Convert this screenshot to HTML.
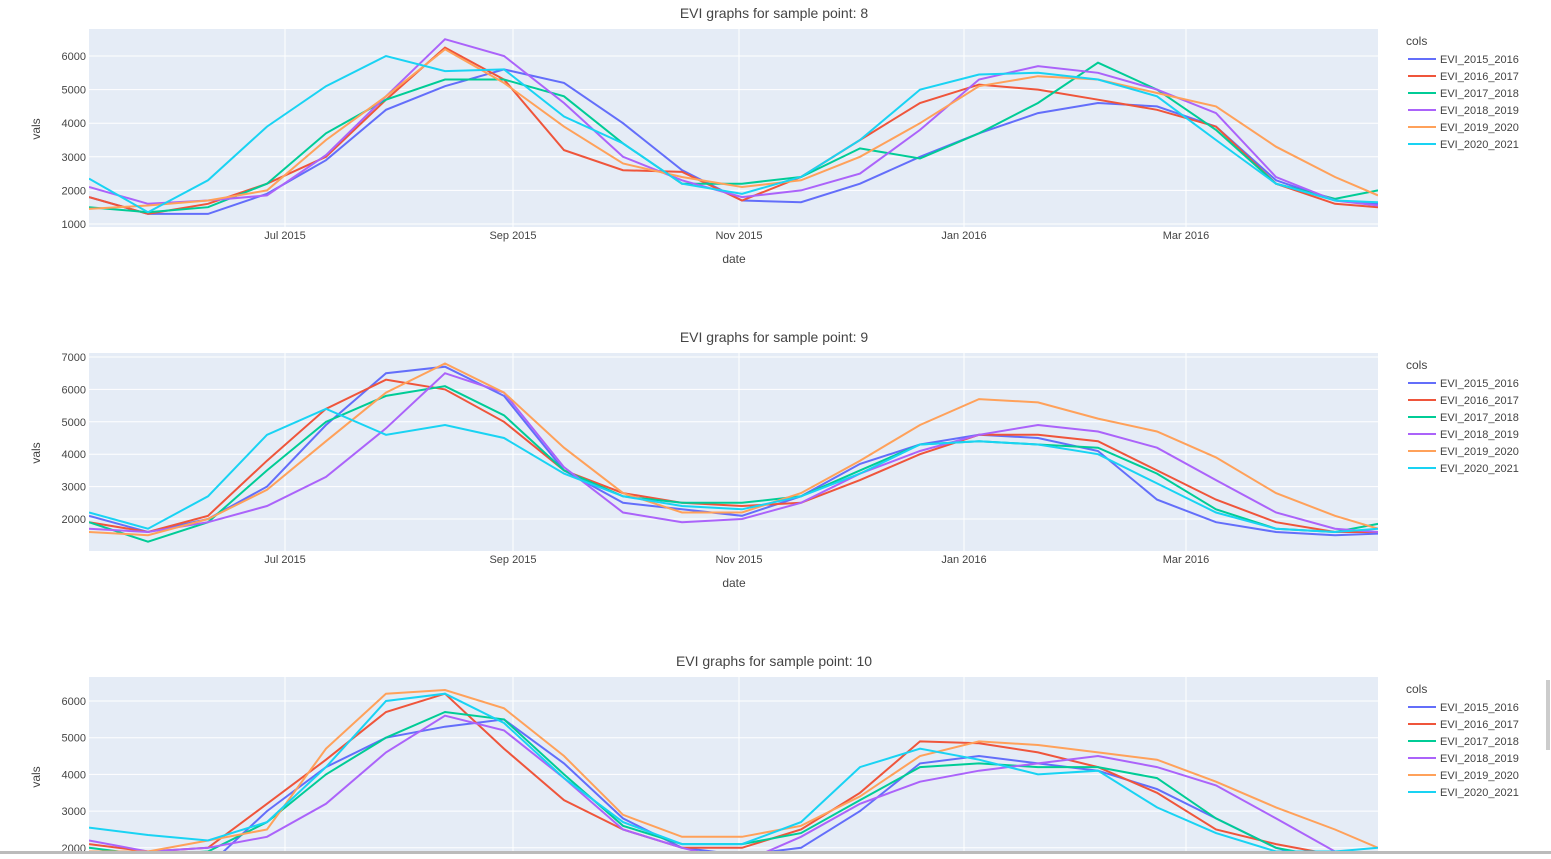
<!DOCTYPE html>
<html><head><meta charset="utf-8"><style>
body{margin:0;background:#fff;width:1551px;height:854px;overflow:hidden;font-family:"Liberation Sans",sans-serif}
svg text{font-family:"Liberation Sans",sans-serif}
</style></head><body>
<svg id="s" width="1551" height="854" xmlns="http://www.w3.org/2000/svg"></svg>
<script>
const S=document.getElementById('s');let h='';
const cols=['#636efa','#EF553B','#00cc96','#ab63fa','#FFA15A','#19d3f3'];
const names=['EVI_2015_2016','EVI_2016_2017','EVI_2017_2018','EVI_2018_2019','EVI_2019_2020','EVI_2020_2021'];
const xs=[89,148,208,267,326,386,445,504,564,623,682,742,801,860,920,979,1038,1098,1157,1216,1276,1335,1378];
const months=[[285,'Jul 2015'],[513,'Sep 2015'],[739,'Nov 2015'],[964,'Jan 2016'],[1186,'Mar 2016']];
const charts=[
{top:29,bot:227,title:'EVI graphs for sample point: 8',ref:6,refy:56,ppk:33.6,ticks:[1,2,3,4,5,6],date:true,data:[
[1.8,1.3,1.3,1.9,2.9,4.4,5.1,5.6,5.2,4.0,2.6,1.7,1.65,2.2,3.0,3.7,4.3,4.6,4.5,3.9,2.3,1.7,1.6],
[1.8,1.3,1.6,2.2,3.0,4.7,6.25,5.3,3.2,2.6,2.55,1.7,2.4,3.5,4.6,5.15,5.0,4.7,4.4,3.9,2.2,1.6,1.5],
[1.5,1.35,1.5,2.2,3.7,4.7,5.3,5.3,4.8,3.4,2.2,2.2,2.4,3.25,2.95,3.7,4.6,5.8,5.0,3.8,2.2,1.75,2.0],
[2.1,1.6,1.7,1.85,3.05,4.8,6.5,6.0,4.6,3.0,2.3,1.8,2.0,2.5,3.8,5.3,5.7,5.5,5.0,4.3,2.4,1.7,1.55],
[1.45,1.55,1.7,2.0,3.5,4.8,6.2,5.2,3.9,2.8,2.4,2.1,2.3,3.0,4.0,5.1,5.4,5.3,4.9,4.5,3.3,2.4,1.85],
[2.35,1.35,2.3,3.9,5.1,6.0,5.55,5.6,4.2,3.4,2.2,1.9,2.4,3.5,5.0,5.45,5.5,5.3,4.8,3.5,2.2,1.7,1.65]]},
{top:353,bot:551,title:'EVI graphs for sample point: 9',ref:7,refy:357,ppk:32.4,ticks:[2,3,4,5,6,7],date:true,data:[
[2.1,1.6,2.0,3.0,4.9,6.5,6.7,5.8,3.5,2.5,2.3,2.1,2.7,3.7,4.3,4.6,4.5,4.1,2.6,1.9,1.6,1.5,1.55],
[1.9,1.6,2.1,3.8,5.4,6.3,6.0,5.0,3.5,2.8,2.5,2.4,2.5,3.2,4.0,4.6,4.6,4.4,3.5,2.6,1.9,1.6,1.6],
[1.9,1.3,1.9,3.5,5.0,5.8,6.1,5.2,3.5,2.7,2.5,2.5,2.7,3.5,4.3,4.4,4.3,4.2,3.4,2.3,1.7,1.6,1.85],
[1.7,1.6,1.9,2.4,3.3,4.8,6.5,5.9,3.6,2.2,1.9,2.0,2.5,3.4,4.1,4.6,4.9,4.7,4.2,3.2,2.2,1.7,1.6],
[1.6,1.5,2.0,2.9,4.4,5.9,6.8,5.9,4.2,2.8,2.2,2.2,2.8,3.8,4.9,5.7,5.6,5.1,4.7,3.9,2.8,2.1,1.7],
[2.2,1.7,2.7,4.6,5.4,4.6,4.9,4.5,3.4,2.7,2.4,2.3,2.7,3.4,4.3,4.4,4.3,4.0,3.1,2.2,1.7,1.6,1.7]]},
{top:677,bot:851,title:'EVI graphs for sample point: 10',ref:6,refy:701,ppk:36.7,ticks:[2,3,4,5,6],date:false,data:[
[1.5,1.3,1.5,3.0,4.2,5.0,5.3,5.5,4.3,2.8,2.0,1.8,2.0,3.0,4.3,4.5,4.3,4.1,3.6,2.8,2.0,1.6,1.5],
[2.1,1.9,2.0,3.2,4.4,5.7,6.2,4.7,3.3,2.5,2.0,2.0,2.5,3.5,4.9,4.85,4.6,4.2,3.5,2.5,2.1,1.8,1.7],
[2.0,1.8,1.9,2.7,4.0,5.0,5.7,5.5,4.0,2.6,2.1,2.1,2.4,3.3,4.2,4.3,4.2,4.2,3.9,2.8,2.0,1.7,1.7],
[2.2,1.9,2.0,2.3,3.2,4.6,5.6,5.2,3.9,2.5,2.0,1.6,2.3,3.2,3.8,4.1,4.3,4.5,4.2,3.7,2.8,1.9,1.5],
[1.9,1.9,2.2,2.5,4.7,6.2,6.3,5.8,4.5,2.9,2.3,2.3,2.6,3.4,4.5,4.9,4.8,4.6,4.4,3.8,3.1,2.5,2.0],
[2.55,2.35,2.2,2.7,4.2,6.0,6.2,5.4,3.9,2.7,2.1,2.1,2.7,4.2,4.7,4.4,4.0,4.1,3.1,2.4,1.9,1.9,2.0]]}];
charts.forEach((c,i)=>{
 const Y=v=>c.refy+(c.ref-v)*c.ppk;
 h+=`<clipPath id="c${i}"><rect x="89" y="${c.top}" width="1289" height="${c.bot-c.top}"/></clipPath>`;
 h+=`<rect x="89" y="${c.top}" width="1289" height="${c.bot-c.top}" fill="#e5ecf6"/>`;
 c.ticks.forEach(t=>{const y=Y(t);h+=`<line x1="89" x2="1378" y1="${y}" y2="${y}" stroke="#fff"/><text x="86" y="${y+4}" font-size="11" fill="#444" text-anchor="end">${t*1000}</text>`});
 months.forEach(m=>{h+=`<line x1="${m[0]}" x2="${m[0]}" y1="${c.top}" y2="${c.bot}" stroke="#fff"/>`;if(c.date)h+=`<text x="${m[0]}" y="${c.bot+12}" font-size="11" fill="#444" text-anchor="middle">${m[1]}</text>`});
 c.data.forEach((d,k)=>{h+=`<polyline clip-path="url(#c${i})" fill="none" stroke="${cols[k]}" stroke-width="2" points="${d.map((v,j)=>xs[j]+','+Y(v).toFixed(1)).join(' ')}"/>`});
 h+=`<text x="774" y="${c.top-11}" font-size="14" fill="#444" text-anchor="middle">${c.title}</text>`;
 h+=`<text transform="translate(40,${c.top+100}) rotate(-90)" font-size="12" fill="#444" text-anchor="middle">vals</text>`;
 if(c.date)h+=`<text x="734" y="${c.bot+36}" font-size="12" fill="#444" text-anchor="middle">date</text>`;
 h+=`<text x="1406" y="${c.top+16}" font-size="12" fill="#444">cols</text>`;
 names.forEach((n,k)=>{const y=c.top+30+k*17;h+=`<line x1="1408" x2="1436" y1="${y}" y2="${y}" stroke="${cols[k]}" stroke-width="2"/><text x="1440" y="${y+4}" font-size="11" fill="#444">${n}</text>`});
});
h+=`<rect x="0" y="851" width="1551" height="3" fill="#bbb"/><rect x="1546" y="680" width="4" height="70" fill="#ccc"/>`;
S.innerHTML=h;
</script>
</body></html>
